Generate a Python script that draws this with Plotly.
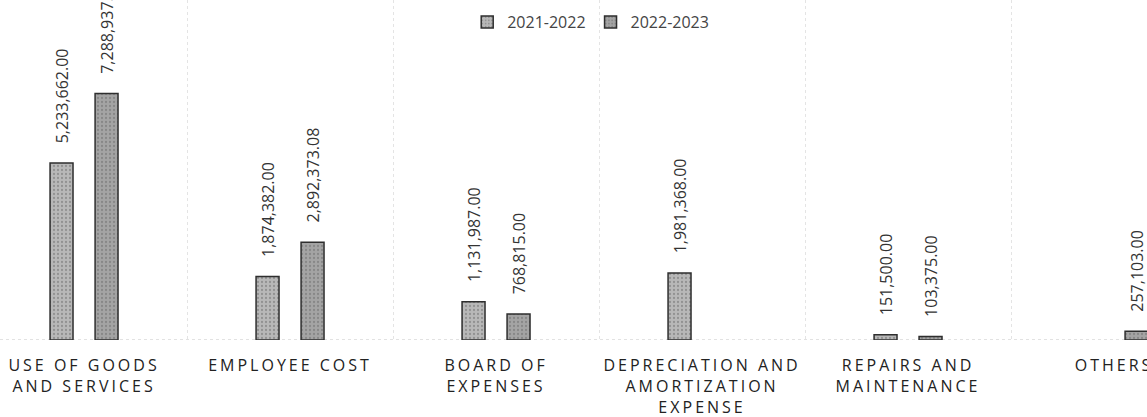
import plotly.graph_objects as go

categories = [
    "USE OF GOODS<br>AND SERVICES",
    "EMPLOYEE COST",
    "BOARD OF<br>EXPENSES",
    "DEPRECIATION AND<br>AMORTIZATION<br>EXPENSE",
    "REPAIRS AND<br>MAINTENANCE",
    "OTHERS",
]
series_names = ["2021-2022", "2022-2023"]
values_2021_2022 = [5233662.00, 1874382.00, 1131987.00, 1981368.00, 151500.00, None]
values_2022_2023 = [7288937.00, 2892373.08, 768815.00, None, 103375.00, 257103.00]

FONT = "Open Sans"
fig = go.Figure()
for name, vals, fill in [
    (series_names[0], values_2021_2022, "#b8b8b8"),
    (series_names[1], values_2022_2023, "#a4a4a4"),
]:
    fig.add_trace(go.Bar(
        name=name,
        x=categories,
        y=vals,
        marker=dict(
            color=fill,
            line=dict(color="#2e2e2e", width=1.5),
            pattern=dict(shape=".", fgcolor="#6a6a6a", bgcolor=fill, size=4, solidity=0.25),
        ),
        texttemplate="\u00a0\u00a0\u00a0\u00a0%{y:,.2f}",
        textposition="outside",
        textangle=-90,
        constraintext="none",
        cliponaxis=False,
        textfont=dict(family=FONT, size=16, color="#333333"),
    ))

fig.update_layout(
    width=1147,
    height=417,
    margin=dict(l=0, r=0, t=0, b=77),
    paper_bgcolor="white",
    plot_bgcolor="white",
    barmode="group",
    bargap=0.563,
    bargroupgap=0.49,
    showlegend=True,
    legend=dict(
        orientation="h",
        x=0.515, xanchor="center",
        y=0.935, yanchor="middle",
        font=dict(family=FONT, size=16, color="#444444"),
        itemwidth=30,
        bgcolor="rgba(0,0,0,0)",
    ),
    xaxis=dict(
        range=[-0.408, 5.16],
        tickson="boundaries",
        showgrid=True,
        gridcolor="#e4e4e4",
        griddash="dot",
        gridwidth=1,
        ticks="",
        showline=False,
        zeroline=False,
        tickfont=dict(family=FONT, size=16, color="#222222"),
        ticklabelstandoff=14,
    ),
    yaxis=dict(
        range=[0, 10.05e6],
        showgrid=False,
        showticklabels=False,
        zeroline=False,
        showline=False,
        ticks="",
    ),
    shapes=[dict(
        type="line", xref="paper", yref="y", x0=0, x1=1, y0=0, y1=0,
        line=dict(color="#c4c4c4", width=1, dash="dot"),
        layer="below",
    )],
)

post = """
function ls(){document.querySelectorAll('.xtick text').forEach(function(t){t.style.letterSpacing='3px';});}
ls();
var gd=document.getElementsByClassName('plotly-graph-div')[0];
if(gd&&gd.on){gd.on('plotly_afterplot',ls);}
"""
fig.write_html("out.html", post_script=post)
